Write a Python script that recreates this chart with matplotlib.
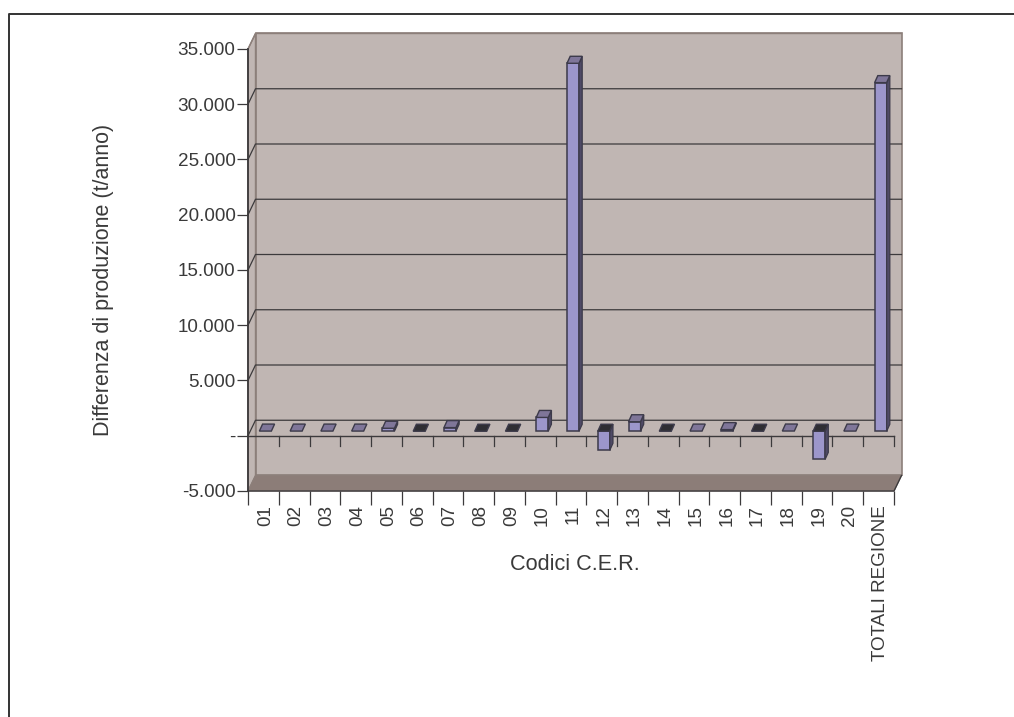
import matplotlib
matplotlib.use("Agg")
import matplotlib.pyplot as plt
from matplotlib.patches import Polygon
from matplotlib.lines import Line2D
from matplotlib.transforms import ScaledTranslation

categories = ["01","02","03","04","05","06","07","08","09","10","11","12","13","14","15","16","17","18","19","20","TOTALI REGIONE"]
values = [15,15,15,15,270,-30,330,-30,-30,1250,33300,-1720,860,-30,15,150,-30,20,-2550,15,31550]
y_ticks = [-5000,0,5000,10000,15000,20000,25000,30000,35000]
y_labels = ["-5.000","-","5.000","10.000","15.000","20.000","25.000","30.000","35.000"]
x_title = "Codici C.E.R."
y_title = "Differenza di produzione (t/anno)"

W, H = 1014, 717
plt.rcParams['font.family'] = ['Liberation Sans', 'DejaVu Sans']
TXT = '#3a3a3a'
fig = plt.figure(figsize=(W/100, H/100), dpi=100, facecolor='white')
L, R, T, B = 248, 894, 49, 491
ax = fig.add_axes([L/W, 1-B/H, (R-L)/W, (B-T)/H])
n = len(categories)
ax.set_xlim(0, n)
ax.set_ylim(-5000, 35000)
for s in ax.spines.values():
    s.set_visible(False)
ax.patch.set_alpha(0)

px = n/(R-L)                # category units per pixel
py = 40000/(B-T)            # value units per pixel
DX, DY = 7.5*px, 15.5*py    # depth of the chart box
ymin, ymax = -5000, 35000

def poly(pts, fc, ec='none', lw=0, z=1):
    ax.add_patch(Polygon(pts, closed=True, fc=fc, ec=ec, lw=lw, zorder=z, clip_on=False))

WALL = '#c0b6b3'; EDGE = '#8c7f7a'; FLOOR = '#8c7d78'; LINE = '#3c3a3c'
# back wall, left wall, floor
poly([(DX, ymin+DY), (n+DX, ymin+DY), (n+DX, ymax+DY), (DX, ymax+DY)], WALL, EDGE, 1.2, 1)
poly([(0, ymin), (DX, ymin+DY), (DX, ymax+DY), (0, ymax)], WALL, EDGE, 1.0, 1)
poly([(0, ymin), (n, ymin), (n+DX, ymin+DY), (DX, ymin+DY)], FLOOR, EDGE, 0.8, 1)

# gridlines on the back and left walls
for v in y_ticks[1:-1]:
    ax.plot([0, DX, n+DX], [v, v+DY, v+DY], color=LINE, lw=0.9, zorder=2, clip_on=False)
ax.plot([0, DX, n+DX], [ymax, ymax+DY, ymax+DY], color=EDGE, lw=1.0, zorder=2, clip_on=False)
ax.plot([0, 0], [ymin, ymax], color=LINE, lw=1.3, zorder=5, clip_on=False)
ax.plot([0, n, n+DX], [ymin, ymin, ymin+DY], color=LINE, lw=1.0, zorder=5, clip_on=False)

# zero axis with its ticks
ax.plot([0, n], [0, 0], color=LINE, lw=1.0, zorder=3, clip_on=False)
for i in range(1, n+1):
    ax.plot([i, i], [0, -10*py], color=LINE, lw=0.9, zorder=3, clip_on=False)

# bars
FRONT = '#9c96cb'; TOP = '#7f7699'; SIDE = '#4f4a66'; DARK = '#2f2e33'; OUT = '#3c3a4a'
bw = 12*px
ox, oy = 2*px, 4.5*py
dx, dy = 3.2*px, 7*py
for i, v in enumerate(values):
    x0 = i + 0.5 - bw/2 + ox
    x1 = x0 + bw
    base = oy
    tip = base + v
    hi = max(base, tip); lo = min(base, tip)
    top_c = DARK if v < 0 else TOP
    if abs(v) > 40:
        poly([(x0, lo), (x1, lo), (x1, hi), (x0, hi)], FRONT, OUT, 1.1, 4)
        poly([(x1, lo), (x1+dx, lo+dy), (x1+dx, hi+dy), (x1, hi)], SIDE, OUT, 0.9, 4)
    poly([(x0, hi), (x1, hi), (x1+dx, hi+dy), (x0+dx, hi+dy)], top_c, OUT, 1.0, 4)

# axis ticks and labels
ax.set_yticks(y_ticks)
ax.set_yticklabels(y_labels, fontsize=13.6, color=TXT)
ax.tick_params(axis='y', length=8, width=0.9, color=LINE, pad=1)
ax.set_xticks([i+0.5 for i in range(n)])
ax.set_xticklabels(categories, rotation=90, fontsize=13.6, color=TXT, ha='center', va='top')
ax.tick_params(axis='x', which='major', length=0, pad=10)
shift = ScaledTranslation(2/100, 0, fig.dpi_scale_trans)
for lab in ax.get_xticklabels():
    lab.set_transform(lab.get_transform() + shift)
ax.set_xticks(range(n+1), minor=True)
ax.tick_params(axis='x', which='minor', length=10, width=0.9, color=LINE)

fig.text(574.5/W, 1-565/H, x_title, fontsize=15.6, color=TXT, ha='center', va='center')
fig.text(104/W, 1-280/H, y_title, fontsize=15.5, color=TXT, ha='center', va='center', rotation=90)

# outer frame
fig.add_artist(Line2D([9/W, 9/W, 1], [0, 1-14/H, 1-14/H], color='#333333', lw=1.4))
fig.savefig('out.png', dpi=100)
